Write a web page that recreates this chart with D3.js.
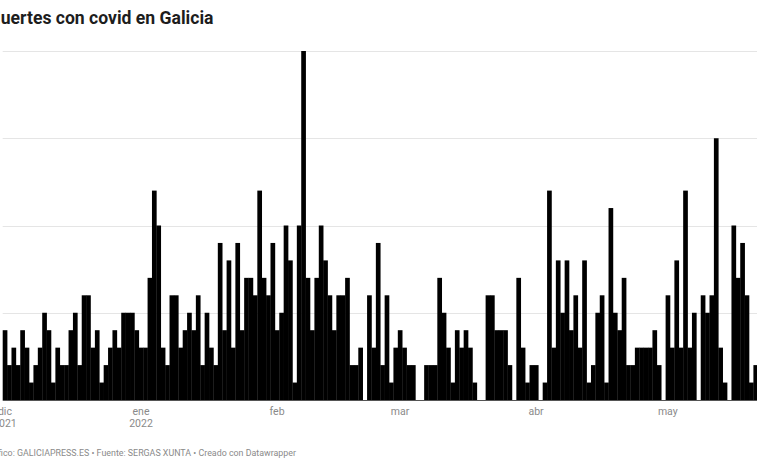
<!DOCTYPE html>
<html>
<head>
<meta charset="utf-8">
<script src="https://cdn.jsdelivr.net/npm/d3@7"></script>
<style>
  html, body { margin: 0; padding: 0; background: #fff; }
  svg { display: block; font-family: Roboto, "Noto Sans", sans-serif; }
</style>
</head>
<body>
<svg id="chart" width="757" height="463"></svg>
<script>
// Daily deaths, from 1 Dec 2021
const startDate = "2021-12-01";
const dec = [4,2,3,2,4,3,1,2,3,5, 4,1,3,2,2,4,5,2,6,6, 3,4,1,2,3,4,3,5,5,5, 4];
const jan = [3,3,7,12,10,3,2,6,6,3, 4,5,4,6,2,5,3,2,9,4, 8,3,9,4,7,7,6,12,7,6, 9];
const feb = [4,5,10,8,1,10,20,7,4,7, 10,8,6,4,6,6,7,2,2,3, 0,6,3,9,2,6,1,3];
const mar = [4,3,2,2,0,0,2,2,2,7, 5,3,1,4,3,4,3,1,0,0, 6,6,4,4,4,2,0,7,3,1, 2];
const apr = [2,0,1,12,3,8,5,8,4,6, 3,8,1,2,5,6,1,11,5,4, 7,2,2,3,3,3,3,4,2,0];
const may = [6,3,8,3,12,3,5,0,6,5, 6,15,3,1,0,10,7,9,6,1, 2];
const yTicks = [0, 5, 10, 15, 20];
const monthTicks = ["2021-12-01","2022-01-01","2022-02-01","2022-03-01","2022-04-01","2022-05-01"];
const monthLabels = [["dic","2021"],["ene","2022"],["feb"],["mar"],["abr"],["may"]];
const title = "Muertes con covid en Galicia";
const footer = "Gráfico: GALICIAPRESS.ES • Fuente: SERGAS XUNTA • Creado con Datawrapper";

const values = [].concat(dec, jan, feb, mar, apr, may);
const parse = d3.utcParse("%Y-%m-%d");
const d0 = parse(startDate);
const data = values.map((v, i) => ({ date: d3.utcDay.offset(d0, i), value: v }));
const dEnd = d3.utcDay.offset(d0, values.length);

const svg = d3.select("#chart");
const x = d3.scaleUtc().domain([d0, dEnd]).range([2.7, 757.8]);
const y = d3.scaleLinear().domain([0, 20]).range([400, 51]);

// helper: font size so that a substring spans a given width
function fitSize(str, width, weight) {
  const t = svg.append("text").attr("font-size", 20).attr("font-weight", weight).text(str);
  const w = t.node().getComputedTextLength();
  t.remove();
  return 20 * width / w;
}

// title (cropped at left in the reference)
const titleSize = fitSize("uertes con covid en Galicia", 213, 700);
svg.append("text")
  .attr("x", 213.5).attr("y", 24)
  .attr("text-anchor", "end")
  .attr("font-size", titleSize).attr("font-weight", 700)
  .attr("fill", "#1d1d1d")
  .text(title);

// gridlines
svg.append("g").selectAll("line")
  .data(yTicks.filter(t => t > 0))
  .join("line")
  .attr("x1", 2.7).attr("x2", 757)
  .attr("y1", d => Math.round(y(d)) + 0.5).attr("y2", d => Math.round(y(d)) + 0.5)
  .attr("stroke", "#e5e5e5").attr("stroke-width", 1);

// bars
svg.append("g").selectAll("rect")
  .data(data)
  .join("rect")
  .attr("x", d => x(d.date))
  .attr("width", d => x(d3.utcDay.offset(d.date, 1)) - x(d.date) + 0.3)
  .attr("y", d => y(d.value))
  .attr("height", d => y(0) - y(d.value))
  .attr("fill", "#000");

// baseline
svg.append("line")
  .attr("x1", 2.7).attr("x2", 757)
  .attr("y1", y(0) + 0.5).attr("y2", y(0) + 0.5)
  .attr("stroke", "#555").attr("stroke-width", 1);

// x axis labels
const dayW = x(d3.utcDay.offset(d0, 1)) - x(d0);
const lab = svg.append("g").attr("font-size", 10.5).attr("fill", "#8a8a8a").attr("text-anchor", "middle");
monthTicks.forEach((m, i) => {
  const cx = x(parse(m)) + dayW / 2;
  monthLabels[i].forEach((t, j) => {
    lab.append("text").attr("x", cx).attr("y", 415 + j * 12).text(t);
  });
});

// footer (cropped at left in the reference)
const footSize = fitSize("fico: GALICIAPRESS.ES • Fuente: SERGAS XUNTA • Creado con Datawrapper", 298, 400);
svg.append("text")
  .attr("x", 296).attr("y", 456)
  .attr("text-anchor", "end")
  .attr("font-size", footSize).attr("fill", "#8a8a8a")
  .text(footer);
</script>
</body>
</html>
